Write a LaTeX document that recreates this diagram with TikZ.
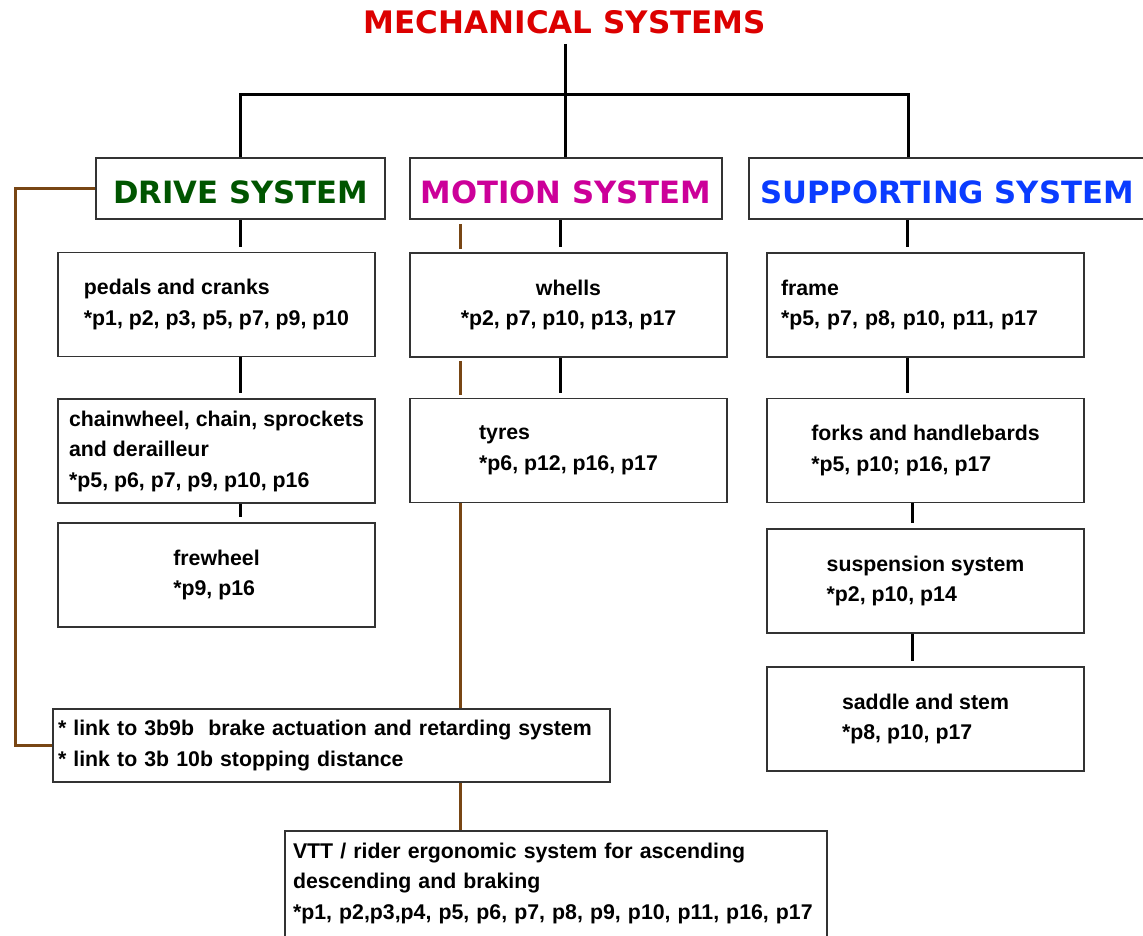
\documentclass[tikz,border=0pt]{standalone}
\usepackage{fontspec}
\setmainfont{Liberation Sans}
\newfontfamily\headfont{DejaVu Sans}
\usetikzlibrary{calc}

\definecolor{titlered}{RGB}{220,0,0}
\definecolor{drivegreen}{RGB}{0,85,0}
\definecolor{motionpink}{RGB}{204,0,153}
\definecolor{supportblue}{RGB}{10,60,255}
\definecolor{linkbrown}{RGB}{120,70,20}

\newcommand\partfont{\fontsize{21.3}{30.5}\selectfont\bfseries}
\newcommand\headsize{\headfont\bfseries\fontsize{30.7}{36}\selectfont}

\begin{document}
\begin{tikzpicture}[x=1pt,y=-1pt,
	boxline/.style={draw=black!80,line width=1.6pt},
	head/.style={boxline,font=\headsize,minimum height=61pt,inner sep=0pt,text height=30.5pt,text depth=0pt},
	part/.style={boxline,font=\partfont,align=left,minimum width=317pt,minimum height=104pt,inner sep=0pt},
	tie/.style={line width=3pt},
	tiegap/.style={tie,shorten >=5pt},
	brownline/.style={line width=3pt,draw=linkbrown}]

\useasboundingbox (0,0) rectangle (1143,935);
\clip (0,0) rectangle (1143,935);

\node[font=\headfont\bfseries\fontsize{31}{36}\selectfont,text=titlered,inner xsep=0pt,inner ysep=10pt] (title) at (565,22) {MECHANICAL SYSTEMS};

\node[head,text=drivegreen,minimum width=289pt] (drive) at (240.5,188.5) {DRIVE SYSTEM};
\node[head,text=motionpink,minimum width=312pt] (motion) at (566,188.5) {MOTION SYSTEM};
\node[head,text=supportblue,minimum width=396pt] (supp) at (947,188.5) {SUPPORTING SYSTEM};

% drive system
\node[part] (pedals) at (216.5,304.5) {pedals and cranks\\{}*p1, p2, p3, p5, p7, p9, p10};
\node[part] (chain) at (216.5,451) {chainwheel, chain, sprockets\\and derailleur\\{}*p5, p6, p7, p9, p10, p16};
\node[part] (frew) at (216.5,575) {frewheel\\{}*p9, p16};

% motion system
\node[part,align=center] (whells) at (568.5,305) {whells\\{}*p2, p7, p10, p13, p17};
\node[part] (tyres) at (568.5,450.5) {tyres\\{}*p6, p12, p16, p17};

% supporting system
\node[part,text width=289pt,inner xsep=14pt] (frame) at (925.5,305) {frame\\{}*p5, p7, p8, p10, p11, p17};
\node[part] (forks) at (925.5,450.5) {forks and handlebards\\{}*p5, p10; p16, p17};
\node[part] (susp) at (925.5,581) {suspension system\\{}*p2, p10, p14};
\node[part] (saddle) at (925.5,719) {saddle and stem\\{}*p8, p10, p17};

\node[boxline,font=\partfont,align=left,text width=547pt,inner xsep=5pt,minimum height=73pt] (link) at (331.5,745.5) {* link to 3b9b\ \ brake actuation and retarding system\\{}* link to 3b 10b stopping distance};
\node[boxline,font=\partfont,align=left,text width=526pt,inner xsep=8pt,inner ysep=12pt,anchor=north] (vtt) at (556,830) {VTT / rider ergonomic system for ascending\\descending and braking\\{}*p1, p2,p3,p4, p5, p6, p7, p8, p9, p10, p11, p16, p17\rule[-30pt]{0pt}{0pt}};

\coordinate (bus) at (565,94);
\coordinate (bx) at (460,0);
\coordinate (mx) at (560,0);
\coordinate (sx) at (907,0);
\coordinate (sy) at (912,0);
\coordinate (loop) at (15,400);

\draw[tie] (title.south) -- (bus);
\draw[tie] (drive.north) |- (bus) -| ([xshift=-39pt]supp.north);
\draw[tie] (bus) -- (bus |- motion.north);

\draw[tiegap] (drive.south) -- (drive.south |- pedals.north);
\draw[tiegap] (pedals.south -| drive.south) -- (chain.north -| drive.south);
\draw[tiegap] (chain.south -| drive.south) -- (frew.north -| drive.south);

\draw[tiegap] (motion.south -| mx) -- (whells.north -| mx);
\draw[tiegap] (whells.south -| mx) -- (tyres.north -| mx);

\draw[tiegap] (supp.south -| sx) -- (frame.north -| sx);
\draw[tiegap] (frame.south -| sx) -- (forks.north -| sx);
\draw[tiegap] (forks.south -| sy) -- (susp.north -| sy);
\draw[tiegap] (susp.south -| sy) -- (saddle.north -| sy);

\draw[brownline,shorten <=4pt,shorten >=3pt] (motion.south -| bx) -- (whells.north -| bx);
\draw[brownline,shorten <=3pt,shorten >=3pt] (whells.south -| bx) -- (tyres.north -| bx);
\draw[brownline] (tyres.south -| bx) -- (link.north -| bx);
\draw[brownline] (link.south -| bx) -- (vtt.north -| bx);
\draw[brownline] (drive.west) -| (loop) |- (link.west);

\end{tikzpicture}
\end{document}
